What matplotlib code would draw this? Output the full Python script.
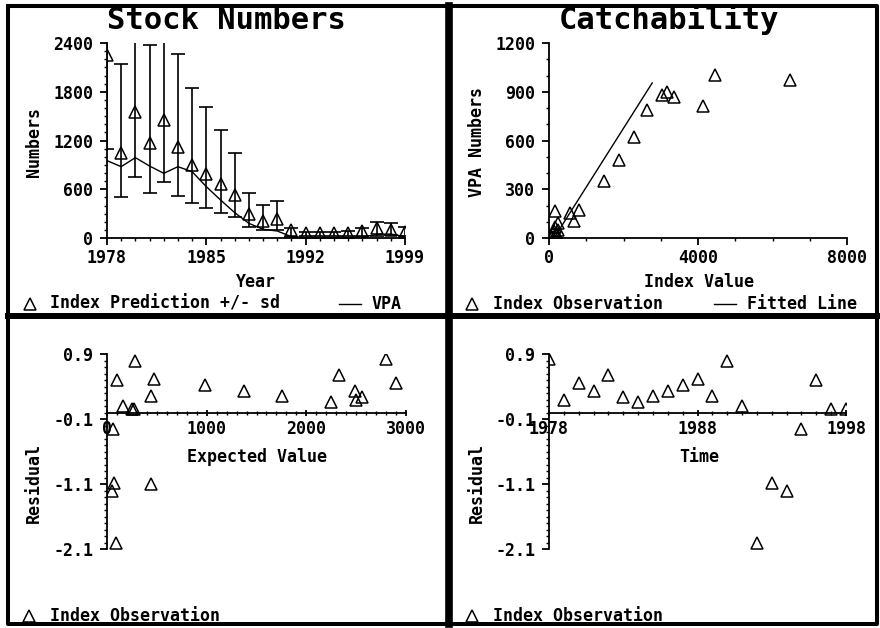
import numpy as np
import matplotlib
matplotlib.use('Agg')
import matplotlib.pyplot as plt
from matplotlib.lines import Line2D
from matplotlib.ticker import MultipleLocator, FixedLocator, FixedFormatter

plt.rcParams['font.family'] = ['DejaVu Sans Mono']
plt.rcParams['font.weight'] = 'bold'

W, H = 880, 628

# ---- data ----
years = list(range(1978, 2000))
index_pred = [2252, 1042, 1555, 1165, 1452, 1124, 898, 788, 665, 529, 295,
              213, 230, 95, 57, 57, 57, 66, 85, 123, 100, 78]
pred_lo = [1090, 509, 747, 558, 693, 521, 435, 369, 304, 254, 139,
           94, 94, 16, 20, 20, 20, 20, 30, 30, 35, 30]
pred_hi = [4600, 2137, 3300, 2375, 3000, 2260, 1850, 1612, 1325, 1050, 554,
           406, 451, 127, 80, 80, 80, 85, 123, 201, 184, 139]
vpa = [952, 878, 989, 886, 796, 878, 816, 632, 468, 312, 180,
       107, 86, 16, 8, 8, 8, 8, 10, 45, 49, 16]

index_obs = [6476, 3022, 4457, 3363, 2619, 3157, 4143, 2278, 1874, 1480, 807,
             152, 556, 664, 242, 160, 250, 116, 206, 72, 130, 190]
vpa_obs = [974, 882, 1005, 868, 790, 896, 814, 622, 482, 349, 174,
           164, 154, 107, 92, 70, 49, 33, 18, 8, 45, 28]
fit_x = [135, 2770]
fit_y = [0, 954]

resid = [0.83, 0.197, 0.454, 0.326, 0.582, 0.238, 0.156, 0.259, 0.326, 0.428,
         0.515, 0.259, 0.787, 0.095, -2.0, -1.085, -1.213, -0.254, 0.495,
         0.054, 0.06, -1.1]
expected = [2799, 2501, 2899, 2491, 2324, 2558, 2251, 1756, 1371, 986, 468,
            445, 284, 160, 94, 67, 50, 60, 100, 251, 268, 445]

year_ticks = [1978, 1985, 1992, 1999]
time_ticks = [1978, 1988, 1998]
resid_ticks = [0.9, -0.1, -1.1, -2.1]
resid_labels = ['0.9', '-0.1', '-1.1', '-2.1']


def fx(x):
    return x / W


def fy(y):
    return 1 - y / H


def axes_px(left, top, right, bottom):
    return [fx(left), fy(bottom), (right - left) / W, (bottom - top) / H]


fig = plt.figure(figsize=(8.8, 6.28), dpi=100)


def fline(xs, ys, lw):
    fig.add_artist(Line2D([fx(v) for v in xs], [fy(v) for v in ys],
                          transform=fig.transFigure, color='black', lw=lw,
                          solid_capstyle='projecting'))


# panel borders
fline([7.5, 877, 877, 7.5, 7.5], [5.5, 5.5, 624, 624, 5.5], 2.9)
fline([448.5, 448.5], [5.5, 624], 5.5)
fline([7.5, 877], [316, 316], 4.3)

TS = 12


def style(ax, xmin, ymaj, ymin):
    for s in ['top', 'right']:
        ax.spines[s].set_visible(False)
    for s in ['left', 'bottom']:
        ax.spines[s].set_linewidth(1.3)
    ax.xaxis.set_minor_locator(MultipleLocator(xmin))
    if ymaj:
        ax.yaxis.set_major_locator(MultipleLocator(ymaj))
    ax.yaxis.set_minor_locator(MultipleLocator(ymin))
    ax.tick_params(which='major', direction='out', length=5, width=1.3,
                   labelsize=TS, pad=3)
    ax.tick_params(axis='y', which='major', pad=5)
    ax.tick_params(which='minor', direction='out', length=2.5, width=1.0)
    ax.patch.set_alpha(0)


def legend_mark(x, y):
    fig.add_artist(Line2D([fx(x)], [fy(y)], transform=fig.transFigure,
                          marker='^', ms=9, mfc='none', mec='black', mew=1.1,
                          ls='none'))


def legend_line(x, y):
    fig.add_artist(Line2D([fx(x - 12), fx(x + 10)], [fy(y), fy(y)],
                          transform=fig.transFigure, color='black', lw=1.0))


def ftext(x, y, s, size=TS, ha='left', va='center'):
    fig.text(fx(x), fy(y), s, fontsize=size, ha=ha, va=va, fontweight='bold')


# ---- Stock Numbers ----
ax1 = fig.add_axes(axes_px(107, 43, 405, 238))
yerr = [np.array(index_pred) - np.array(pred_lo), np.array(pred_hi) - np.array(index_pred)]
ax1.errorbar(years, index_pred, yerr=yerr, fmt='none', ecolor='black',
             elinewidth=1.2, capsize=5, capthick=1.2)
ax1.plot(years, index_pred, '^', ms=8, mfc='none', mec='black', mew=1.1)
ax1.plot(years, vpa, color='black', lw=1.0)
ax1.set_xlim(1978, 1999)
ax1.set_ylim(0, 2400)
ax1.xaxis.set_major_locator(FixedLocator(year_ticks))
style(ax1, 1, 600, 100)
ax1.set_xlabel('Year', fontsize=TS, fontweight='bold', va='center')
ax1.xaxis.set_label_coords(0.5, (238 - 282) / 195)
ax1.set_ylabel('Numbers', fontsize=TS, fontweight='bold', va='center')
ax1.yaxis.set_label_coords((34 - 107) / 298, (238 - 142) / 195)
ftext(226, 29, 'Stock Numbers', size=22, ha='center', va='baseline')
legend_mark(30, 304)
ftext(50, 304, 'Index Prediction +/- sd')
legend_line(351, 304)
ftext(372, 304, 'VPA')

# ---- Catchability ----
ax2 = fig.add_axes(axes_px(549, 43, 847, 238))
ax2.plot(index_obs, vpa_obs, '^', ms=9, mfc='none', mec='black', mew=1.1)
ax2.plot(fit_x, fit_y, color='black', lw=1.0)
ax2.set_xlim(0, 8000)
ax2.set_ylim(0, 1200)
ax2.xaxis.set_major_locator(MultipleLocator(4000))
style(ax2, 1000, 300, 100)
ax2.set_xlabel('Index Value', fontsize=TS, fontweight='bold', va='center')
ax2.xaxis.set_label_coords((699 - 549) / 298, (238 - 282) / 195)
ax2.set_ylabel('VPA Numbers', fontsize=TS, fontweight='bold', va='center')
ax2.yaxis.set_label_coords((477 - 549) / 298, (238 - 142) / 195)
ftext(669, 29, 'Catchability', size=22, ha='center', va='baseline')
legend_mark(472, 304)
ftext(493, 304, 'Index Observation')
legend_line(726, 304)
ftext(747, 304, 'Fitted Line')

# ---- Residual vs expected ----
ax3 = fig.add_axes(axes_px(107, 354, 406, 549))
ax3.plot(expected, resid, '^', ms=9, mfc='none', mec='black', mew=1.1)
ax3.set_xlim(0, 3000)
ax3.set_ylim(-2.1, 0.9)
ax3.spines['bottom'].set_position(('data', 0))
ax3.xaxis.set_major_locator(MultipleLocator(1000))
style(ax3, 100, None, 0.1)
ax3.yaxis.set_major_locator(FixedLocator(resid_ticks))
ax3.yaxis.set_major_formatter(FixedFormatter(resid_labels))
ax3.tick_params(axis='x', which='both', direction='inout')
ax3.set_xlabel('Expected Value', fontsize=TS, fontweight='bold', va='center')
ax3.xaxis.set_label_coords(0.5, (549 - 457) / 195)
ax3.set_ylabel('Residual', fontsize=TS, fontweight='bold', va='center')
ax3.yaxis.set_label_coords((34 - 107) / 299, (549 - 483) / 195)
legend_mark(29, 616)
ftext(50, 616, 'Index Observation')

# ---- Residual vs time ----
ax4 = fig.add_axes(axes_px(549, 354, 846, 549))
ax4.plot(years, resid, '^', ms=9, mfc='none', mec='black', mew=1.1)
ax4.set_xlim(1978, 1998)
ax4.set_ylim(-2.1, 0.9)
ax4.spines['bottom'].set_position(('data', 0))
ax4.xaxis.set_major_locator(FixedLocator(time_ticks))
style(ax4, 1, None, 0.1)
ax4.yaxis.set_major_locator(FixedLocator(resid_ticks))
ax4.yaxis.set_major_formatter(FixedFormatter(resid_labels))
ax4.tick_params(axis='x', which='both', direction='inout')
ax4.set_xlabel('Time', fontsize=TS, fontweight='bold', va='center')
ax4.xaxis.set_label_coords((699 - 549) / 297, (549 - 457) / 195)
ax4.set_ylabel('Residual', fontsize=TS, fontweight='bold', va='center')
ax4.yaxis.set_label_coords((477 - 549) / 297, (549 - 483) / 195)
legend_mark(472, 616)
ftext(493, 616, 'Index Observation')

fig.savefig('out.png', dpi=100)
plt.close(fig)
